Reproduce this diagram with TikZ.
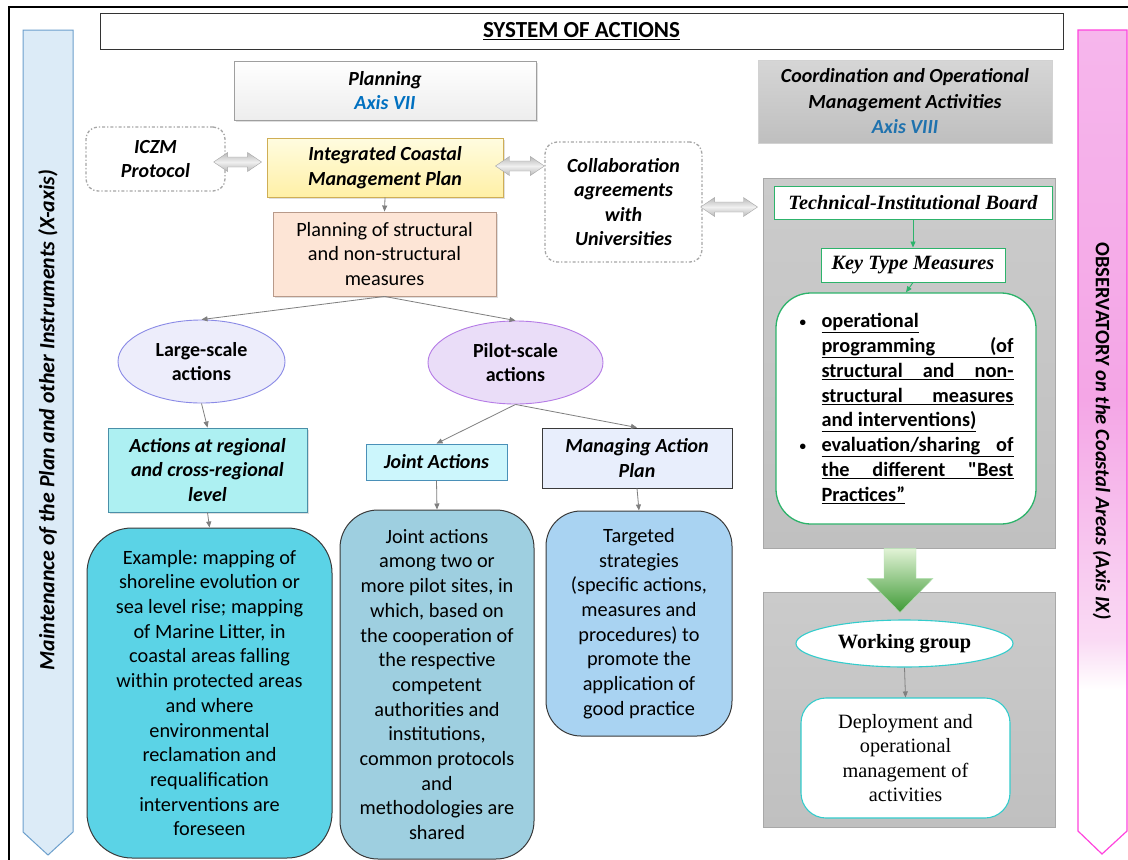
\documentclass[tikz,border=0pt]{standalone}
\usepackage{fontspec}
\setmainfont{Carlito}
\newfontfamily\serifrm{Liberation Serif}
\usetikzlibrary{arrows.meta,shapes.geometric,shadows,calc}
\frenchspacing

\definecolor{connc}{HTML}{7F7F7F}
\definecolor{greenc}{HTML}{2DB36B}
\definecolor{dashc}{HTML}{A6A6A6}
\definecolor{axisblue}{HTML}{0070C0}
\definecolor{axisblueB}{HTML}{1F72AE}
\definecolor{leftfill}{HTML}{DCEBF7}
\definecolor{leftline}{HTML}{6C9FCC}
\definecolor{obsline}{HTML}{FF44DD}
\definecolor{pkA}{HTML}{F6B6EC}
\definecolor{pkB}{HTML}{F4A6E6}
\definecolor{pkC}{HTML}{FADAF4}
\definecolor{panelc}{HTML}{C4C4C4}
\definecolor{panelhi}{HTML}{CBCBCB}
\definecolor{panello}{HTML}{C0C0C0}
\definecolor{panelline}{HTML}{A8A8A8}
\definecolor{coordhi}{HTML}{D6D6D6}
\definecolor{coordlo}{HTML}{BFBFBF}
\definecolor{icmtop}{HTML}{FFFCE0}
\definecolor{icmbot}{HTML}{FFF0A6}
\definecolor{icmline}{HTML}{CFAE55}
\definecolor{pnsfill}{HTML}{FDE5D6}
\definecolor{pnsline}{HTML}{B89A8A}
\definecolor{largefill}{HTML}{EDEDFB}
\definecolor{largeline}{HTML}{8A8AE6}
\definecolor{pilotfill}{HTML}{EADDF8}
\definecolor{pilotline}{HTML}{B57BE6}
\definecolor{regfill}{HTML}{ADF0F2}
\definecolor{regline}{HTML}{4A8FA8}
\definecolor{jhfill}{HTML}{CCF6FC}
\definecolor{jhline}{HTML}{4A90B8}
\definecolor{manfill}{HTML}{E8EEFC}
\definecolor{exfill}{HTML}{5BD3E6}
\definecolor{jfill}{HTML}{9ECFE0}
\definecolor{tfill}{HTML}{A9D3F2}
\definecolor{boxline}{HTML}{3A3A3A}
\definecolor{tealc}{HTML}{33CCCC}
\definecolor{garrtop}{HTML}{E2F3D6}
\definecolor{garrbot}{HTML}{3F9A36}

% vertical fade of the observatory band: pink on top, white towards the tip
\pgfdeclareverticalshading{obsfade}{100bp}{color(0bp)=(white); color(35bp)=(white); color(38bp)=(pkC); color(52.6bp)=(pkB); color(75bp)=(pkA); color(100bp)=(pkA)}

\tikzset{
  every node/.style={inner sep=0pt},
  hdr/.style={font=\fontsize{20}{24.5}\selectfont\bfseries\itshape, align=center},
  bodytxt/.style={font=\fontsize{20.3}{24.7}\selectfont, align=center},
  boldtxt/.style={font=\fontsize{20}{24.5}\selectfont\bfseries, align=center},
  conn/.style={draw=connc, line width=0.8pt, -{Triangle[length=6pt,width=5pt]}},
  gconn/.style={draw=greenc, line width=0.9pt, -{Triangle[length=6pt,width=5pt]}},
  dashbox/.style={draw=dashc, line width=1.3pt, dash dot, rounded corners=12pt, fill=white},
  softshadow/.style={drop shadow={opacity=0.25, shadow xshift=2pt, shadow yshift=-2pt}},
  panel/.style={draw=panelline, line width=0.8pt, top color=panelhi, bottom color=panello},
  greenbox/.style={draw=greenc, fill=white, line width=1pt},
  blockarrow/.style={draw=gray!70, line width=0.4pt, top color=gray!55, bottom color=gray!55, middle color=gray!12},
}

% horizontal grey double block arrow; #1 left tip, #2 gives the right tip x
\newcommand\blockdouble[2]{%
  \path[blockarrow] let \p1=#1, \p2=#2 in
    (\x1,\y1) -- (\x1+14pt,\y1+9.5pt) -- (\x1+14pt,\y1+5pt) -- (\x2-14pt,\y1+5pt)
    -- (\x2-14pt,\y1+9.5pt) -- (\x2,\y1) -- (\x2-14pt,\y1-9.5pt) -- (\x2-14pt,\y1-5pt)
    -- (\x1+14pt,\y1-5pt) -- (\x1+14pt,\y1-9.5pt) -- cycle;}

\newcommand\ulline[1]{\underline{\hbox to 192pt{#1}}}
\newcommand\smallbul{\makebox[23pt][l]{\hspace*{1pt}\raisebox{1.5pt}{\fontsize{13}{13}\selectfont\textbullet}}}

\begin{document}
\begin{tikzpicture}[x=1pt,y=-1pt]
\useasboundingbox (0,0) rectangle (1128,860);
\fill[white] (0,0) rectangle (1128,860);

% outer frame
\draw[line width=1.4pt] (9,862) -- (9,7) -- (1130,7);

% title
\node[draw=black!80, line width=0.8pt, minimum width=963, minimum height=36,
      font=\fontsize{23}{26}\selectfont\bfseries] (title) at (581.5,31) {\underline{SYSTEM OF ACTIONS}};

% side bands
\path[fill=leftfill, draw=leftline, line width=1pt] (23,30) -- (73,30) -- (73,832) -- (48,855) -- (23,832) -- cycle;
\node[rotate=90, font=\fontsize{21.8}{24}\selectfont\bfseries\itshape] (xaxis) at (48,420)
  {Maintenance of the Plan and other Instruments (X-axis)};
\path[shading=obsfade, draw=obsline, line width=1.2pt] (1078,30) -- (1127,30) -- (1127,831) -- (1102,854) -- (1078,831) -- cycle;
\node[rotate=-90, font=\fontsize{20.5}{24}\selectfont\bfseries] (obs) at (1102,431)
  {OBSERVATORY \textit{on the Coastal Areas (Axis IX)}};

% planning column
\node[draw=gray!75, line width=0.8pt, top color=white, bottom color=gray!14, minimum width=302, minimum height=59,
      hdr, softshadow] (plan) at (385,90.5) {Planning\\\textcolor{axisblue}{Axis VII}};
\node[dashbox, minimum width=139, minimum height=64, hdr] (iczm) at (155.5,159) {ICZM\\Protocol};
\node[draw=icmline, line width=0.9pt, top color=icmtop, bottom color=icmbot, minimum width=236, minimum height=59,
      hdr, softshadow] (icm) at (385,167.5) {Integrated Coastal\\Management Plan};
\node[dashbox, minimum width=157, minimum height=120, hdr] (collab) at (623.5,202)
  {Collaboration\\agreements\\with\\Universities};
\node[draw=pnsline, line width=0.9pt, fill=pnsfill, minimum width=223, minimum height=84, bodytxt, softshadow]
  (pns) at (384.5,254) {Planning of structural\\and non-structural\\measures};

\node[ellipse, draw=largeline, line width=0.9pt, fill=largefill, minimum width=167, minimum height=83, boldtxt]
  (large) at (201.5,361.5) {Large-scale\\actions};
\node[ellipse, draw=pilotline, line width=0.9pt, fill=pilotfill, minimum width=175, minimum height=83, boldtxt]
  (pilot) at (515.5,362.5) {Pilot-scale\\actions};

\node[draw=regline, line width=0.9pt, fill=regfill, minimum width=199, minimum height=84, hdr, softshadow]
  (region) at (207.5,470) {Actions at regional\\and cross-regional\\level};
\node[draw=jhline, line width=0.9pt, fill=jhfill, minimum width=141, minimum height=36, hdr]
  (jointh) at (436.5,462) {Joint Actions};
\node[draw=boxline, line width=0.9pt, fill=manfill, minimum width=190, minimum height=60, hdr]
  (manage) at (637,458) {Managing Action\\Plan};

\node[draw=boxline, line width=1pt, fill=exfill, rounded corners=45pt, minimum width=245, minimum height=330, bodytxt]
  (example) at (209.5,693) {Example: mapping of\\shoreline evolution or\\sea level rise; mapping\\of Marine Litter, in\\coastal areas falling\\within protected areas\\and where\\environmental\\reclamation and\\requalification\\interventions are\\foreseen};
\node[draw=boxline, line width=1pt, fill=jfill, rounded corners=38pt, minimum width=194, minimum height=349, bodytxt]
  (jointbox) at (437,684.5) {Joint actions\\among two or\\more pilot sites, in\\which, based on\\the cooperation of\\the respective\\competent\\authorities and\\institutions,\\common protocols\\and\\methodologies are\\shared};
\node[draw=boxline, line width=1pt, fill=tfill, rounded corners=35pt, minimum width=186, minimum height=225, bodytxt]
  (target) at (639,623.5) {Targeted\\strategies\\(specific actions,\\measures and\\procedures) to\\promote the\\application of\\good practice};

% coordination column
\node[draw=gray!35, line width=0.8pt, top color=coordhi, bottom color=coordlo, minimum width=294, minimum height=83,
      font=\fontsize{20}{25.5}\selectfont\bfseries\itshape, align=center]
  (coord) at (905,101.5) {Coordination and Operational\\Management Activities\\\textcolor{axisblueB}{Axis VIII}};

\node[panel, minimum width=292, minimum height=370] (panelA) at (909,363) {};
\node[greenbox, minimum width=278, minimum height=33, font=\serifrm\fontsize{20.3}{24}\selectfont\bfseries\itshape]
  (tech) at (913,202.5) {Technical-Institutional Board};
\node[greenbox, minimum width=184, minimum height=34, font=\serifrm\fontsize{20.3}{24}\selectfont\bfseries\itshape]
  (key) at (913,265) {Key Type Measures};
\node[greenbox, line width=1.3pt, rounded corners=35pt, minimum width=260, minimum height=231,
      align=left, font=\fontsize{20.3}{24.8}\selectfont\bfseries] (kbox) at (906,408.5) {%
  \smallbul\underline{operational}\\
  \hspace*{23pt}\ulline{programming\hfill(of}\\
  \hspace*{23pt}\ulline{structural\hfill and\hfill non-}\\
  \hspace*{23pt}\ulline{structural\hfill measures}\\
  \hspace*{23pt}\underline{and interventions)}\\
  \smallbul\ulline{evaluation/sharing\hfill of}\\
  \hspace*{23pt}\ulline{the\hfill different\hfill \textquotedbl Best}\\
  \hspace*{23pt}\underline{Practices”}};

\node[panel, minimum width=292, minimum height=235] (panelB) at (909,709.5) {};

% green block arrow between the two panels
\path[draw=green!45!gray!40, line width=0.4pt, top color=garrtop, bottom color=garrbot]
  let \p1=($(panelA.south)+(-9,0)$) in
  (\x1-16pt,\y1) -- (\x1+16pt,\y1) -- (\x1+16pt,\y1-30pt) -- (\x1+33pt,\y1-30pt)
  -- (\x1,\y1-64pt) -- (\x1-33pt,\y1-30pt) -- (\x1-16pt,\y1-30pt) -- cycle;

\node[ellipse, draw=tealc, line width=1.1pt, fill=white, minimum width=217, minimum height=47,
      font=\serifrm\fontsize{20.3}{24}\selectfont\bfseries] (work) at (904.5,643.5) {Working group};
\node[draw=tealc, line width=1.1pt, fill=white, rounded corners=25pt, minimum width=209, minimum height=120,
      font=\serifrm\fontsize{20.3}{24.5}\selectfont, align=center] (deploy) at (905.5,758)
  {Deployment and\\operational\\management of\\activities};

% grey double block arrows
\blockdouble{($(iczm.east)+(-12,3)$)}{($(icm.west)+(-5,0)$)}
\blockdouble{($(icm.east)+(-8,-1.5)$)}{(collab.west)}
\blockdouble{($(collab.east)+(-2,5)$)}{($(tech.west)+(-16,0)$)}

% connectors
\draw[conn] (icm.south) -- (pns.north);
\draw[conn] (pns.south) -- (large.north);
\draw[conn] (pns.south) -- (pilot.north);
\draw[conn] (large.south) -- (region.north);
\draw[conn] (region.south) -- (example.north);
\draw[conn] (pilot.south) -- (jointh.north);
\draw[conn] (pilot.south) -- (manage.north);
\draw[conn] (jointh.south) -- (jointbox.north);
\draw[conn] (manage.south) -- (target.north);
\draw[gconn] (tech.south) -- (key.north);
\draw[gconn] (key.south) -- (kbox.north);
\draw[conn] (work.south) -- (deploy.north);
\end{tikzpicture}
\end{document}
